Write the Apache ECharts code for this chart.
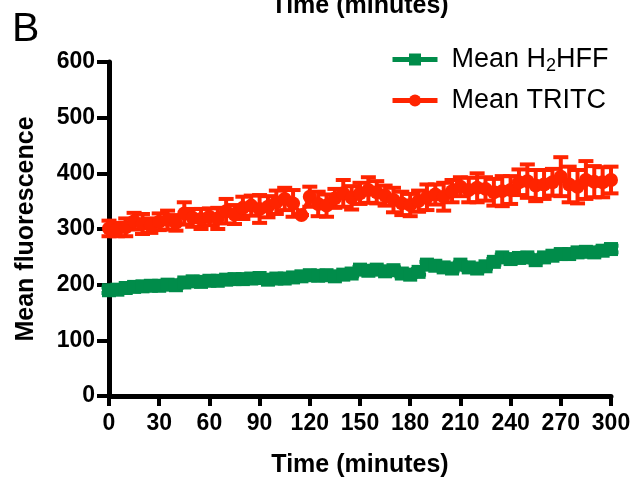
<!DOCTYPE html>
<html><head><meta charset="utf-8">
<script src="https://cdn.jsdelivr.net/npm/echarts@6/dist/echarts.min.js"></script>
<style>html,body{margin:0;padding:0;background:#fff}#c{width:635px;height:488px}</style>
</head><body><div id="c"></div>
<script>
const times = [0,5,10,15,20,25,30,35,40,45,50,55,60,65,70,75,80,85,90,95,100,105,110,115,120,125,130,135,140,145,150,155,160,165,170,175,180,185,190,195,200,205,210,215,220,225,230,235,240,245,250,255,260,265,270,275,280,285,290,295,300];
const h2hffMean = [190,191,194,196,197,198,198,200,199,204,206,205,207,207,209,210,210,211,212,209,211,211,213,215,217,216,217,215,218,220,227,225,227,224,226,220,218,223,236,234,231,229,236,231,229,233,241,249,246,248,249,244,249,252,255,255,258,259,258,261,264];
const h2hffErr = [5,4,5,4,5,4,5,4,5,5,4,5,4,5,4,5,4,5,4,5,4,5,4,5,5,4,5,4,5,5,5,4,5,4,5,5,4,5,5,4,5,5,4,5,5,4,5,5,4,5,5,4,5,5,6,5,5,6,5,6,6];
const tritcMean = [301,299,303,314,309,306,313,316,311,328,320,318,322,319,332,326,338,342,336,340,348,354,346,325,358,345,342,355,364,356,364,370,366,360,352,346,343,350,357,362,358,368,376,370,374,372,366,368,370,384,386,378,380,384,394,380,376,388,385,384,388];
const tritcErr = [14,12,16,15,18,13,15,17,14,20,16,18,15,19,22,17,20,18,25,19,21,20,24,0,18,22,20,17,24,21,19,23,20,18,22,21,20,19,23,18,25,20,17,22,26,21,24,27,25,23,30,28,26,24,35,32,30,34,28,27,24];
const xTicks = [0,30,60,90,120,150,180,210,240,270,300];
const yTicks = [0,100,200,300,400,500,600];

const GREEN = '#008C4A', RED = '#FF2400';
const FONT = 'Liberation Sans, Arial, sans-serif';
const chart = echarts.init(document.getElementById('c'));

function errSeries(means, errs, color, z) {
  return {
    type: 'custom', silent: true, z: z,
    data: times.map((t, i) => [t, means[i] - errs[i], means[i] + errs[i]]),
    renderItem: function (params, api) {
      const lo = api.coord([api.value(0), api.value(1)]);
      const hi = api.coord([api.value(0), api.value(2)]);
      const w = 7.5;
      const st = { stroke: color, lineWidth: 4 };
      return { type: 'group', children: [
        { type: 'line', shape: { x1: lo[0], y1: lo[1], x2: hi[0], y2: hi[1] }, style: st },
        { type: 'line', shape: { x1: lo[0] - w, y1: lo[1], x2: lo[0] + w, y2: lo[1] }, style: st },
        { type: 'line', shape: { x1: hi[0] - w, y1: hi[1], x2: hi[0] + w, y2: hi[1] }, style: st }
      ]};
    }
  };
}

const boldLbl = { color: '#000', fontWeight: 'bold', fontSize: 23, fontFamily: FONT };

chart.setOption({
  animation: false,
  textStyle: { fontFamily: FONT },
  grid: { left: 109, right: 24, top: 62, bottom: 92 },
  graphic: [
    { type: 'text', left: 12, top: 9, style: { text: 'B', fontSize: 41, fill: '#000', fontFamily: FONT } },
    { type: 'text', x: 360, y: 19, style: { text: 'Time (minutes)', fontSize: 25, fontWeight: 'bold', fill: '#000', textAlign: 'center', textVerticalAlign: 'bottom', fontFamily: FONT } }
  ],
  legend: {
    orient: 'vertical', left: 385, top: 41, itemWidth: 45, itemHeight: 15, itemGap: 12,
    lineStyle: { width: 5 },
    data: ['Mean H2HFF', 'Mean TRITC'],
    formatter: function (n) { return n === 'Mean H2HFF' ? '{n|Mean H}{s|2}{n|HFF}' : '{n|Mean TRITC}'; },
    textStyle: { color: '#000', fontSize: 27, padding: [0, 0, 0, 9],
      rich: { n: { fontSize: 27, color: '#000', lineHeight: 32 }, s: { fontSize: 18, color: '#000', padding: [13, 0, 0, 0] } } }
  },
  xAxis: {
    type: 'value', min: 0, max: 300, interval: 30,
    name: 'Time (minutes)', nameLocation: 'middle', nameGap: 57,
    nameTextStyle: { color: '#000', fontWeight: 'bold', fontSize: 25 },
    axisLine: { lineStyle: { color: '#000', width: 5 } },
    axisTick: { length: 10, lineStyle: { color: '#000', width: 4 } },
    axisLabel: Object.assign({ margin: 16, formatter: v => xTicks.includes(v) ? String(v) : '' }, boldLbl),
    splitLine: { show: false }
  },
  yAxis: {
    type: 'value', min: 0, max: 600, interval: 100,
    name: 'Mean fluorescence', nameLocation: 'middle', nameGap: 70,
    nameTextStyle: { color: '#000', fontWeight: 'bold', fontSize: 25 },
    axisLine: { lineStyle: { color: '#000', width: 5 } },
    axisTick: { length: 12, lineStyle: { color: '#000', width: 4 } },
    axisLabel: Object.assign({ margin: 14, formatter: v => yTicks.includes(v) ? String(v) : '' }, boldLbl),
    splitLine: { show: false }
  },
  series: [
    errSeries(h2hffMean, h2hffErr, GREEN, 2),
    errSeries(tritcMean, tritcErr, RED, 4),
    { name: 'Mean H2HFF', type: 'line', z: 3, symbol: 'rect', symbolSize: 14,
      itemStyle: { color: GREEN }, lineStyle: { color: GREEN, width: 4 },
      data: times.map((t, i) => [t, h2hffMean[i]]) },
    { name: 'Mean TRITC', type: 'line', z: 5, symbol: 'circle', symbolSize: 14,
      itemStyle: { color: RED }, lineStyle: { color: RED, width: 4 },
      data: times.map((t, i) => [t, tritcMean[i]]) }
  ]
});
</script></body></html>
